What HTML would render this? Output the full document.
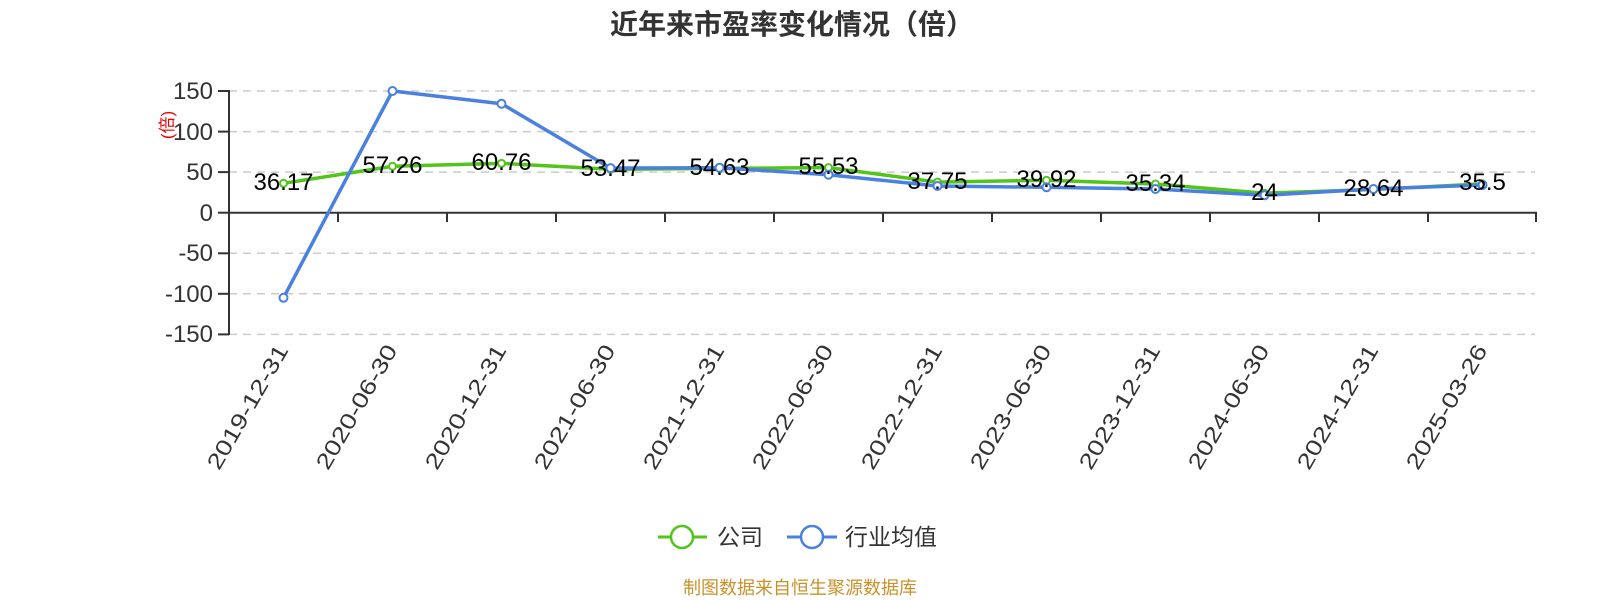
<!DOCTYPE html>
<html><head><meta charset="utf-8"><style>
html,body{margin:0;padding:0;background:#fff;}
svg{display:block;font-family:"Liberation Sans","Noto Sans CJK SC",sans-serif;}
</style></head><body>
<svg width="1600" height="600" viewBox="0 0 1600 600" xmlns="http://www.w3.org/2000/svg">
<text x="792" y="34" text-anchor="middle" font-size="28" font-weight="bold" fill="#333" font-family="'Liberation Sans','Noto Sans CJK SC',sans-serif">近年来市盈率变化情况（倍）</text>
<g stroke="#ccc" stroke-width="1.5" stroke-dasharray="8,6">
<line x1="229" y1="91" x2="1535" y2="91"/>
<line x1="229" y1="131.6" x2="1535" y2="131.6"/>
<line x1="229" y1="172.1" x2="1535" y2="172.1"/>
<line x1="229" y1="253.3" x2="1535" y2="253.3"/>
<line x1="229" y1="293.8" x2="1535" y2="293.8"/>
<line x1="229" y1="334.4" x2="1535" y2="334.4"/>
</g>
<g stroke="#333" stroke-width="2">
<line x1="229" y1="90" x2="229" y2="335"/>
<line x1="229" y1="212.7" x2="1537" y2="212.7"/>
<line x1="218" y1="91" x2="229" y2="91"/><line x1="218" y1="131.6" x2="229" y2="131.6"/><line x1="218" y1="172.1" x2="229" y2="172.1"/><line x1="218" y1="212.7" x2="229" y2="212.7"/><line x1="218" y1="253.3" x2="229" y2="253.3"/><line x1="218" y1="293.8" x2="229" y2="293.8"/><line x1="218" y1="334.4" x2="229" y2="334.4"/>
<line x1="338" y1="212.7" x2="338" y2="222"/><line x1="447" y1="212.7" x2="447" y2="222"/><line x1="556" y1="212.7" x2="556" y2="222"/><line x1="665" y1="212.7" x2="665" y2="222"/><line x1="774" y1="212.7" x2="774" y2="222"/><line x1="883" y1="212.7" x2="883" y2="222"/><line x1="992" y1="212.7" x2="992" y2="222"/><line x1="1101" y1="212.7" x2="1101" y2="222"/><line x1="1210" y1="212.7" x2="1210" y2="222"/><line x1="1319" y1="212.7" x2="1319" y2="222"/><line x1="1428" y1="212.7" x2="1428" y2="222"/><line x1="1536" y1="212.7" x2="1536" y2="222"/>
</g>
<g font-size="24" fill="#333" text-anchor="end">
<text x="213" y="99">150</text><text x="213" y="140">100</text><text x="213" y="180">50</text><text x="213" y="221">0</text><text x="213" y="261">-50</text><text x="213" y="302">-100</text><text x="213" y="342">-150</text>
</g>
<text transform="translate(173,125) rotate(-90)" text-anchor="middle" font-size="17" fill="#e00">(倍)</text>
<g font-size="22" fill="#333" text-anchor="end">
<text transform="translate(289,350) rotate(-60)" textLength="140" lengthAdjust="spacingAndGlyphs">2019-12-31</text>
<text transform="translate(398,350) rotate(-60)" textLength="140" lengthAdjust="spacingAndGlyphs">2020-06-30</text>
<text transform="translate(507,350) rotate(-60)" textLength="140" lengthAdjust="spacingAndGlyphs">2020-12-31</text>
<text transform="translate(616,350) rotate(-60)" textLength="140" lengthAdjust="spacingAndGlyphs">2021-06-30</text>
<text transform="translate(725,350) rotate(-60)" textLength="140" lengthAdjust="spacingAndGlyphs">2021-12-31</text>
<text transform="translate(834,350) rotate(-60)" textLength="140" lengthAdjust="spacingAndGlyphs">2022-06-30</text>
<text transform="translate(943,350) rotate(-60)" textLength="140" lengthAdjust="spacingAndGlyphs">2022-12-31</text>
<text transform="translate(1052,350) rotate(-60)" textLength="140" lengthAdjust="spacingAndGlyphs">2023-06-30</text>
<text transform="translate(1161,350) rotate(-60)" textLength="140" lengthAdjust="spacingAndGlyphs">2023-12-31</text>
<text transform="translate(1270,350) rotate(-60)" textLength="140" lengthAdjust="spacingAndGlyphs">2024-06-30</text>
<text transform="translate(1379,350) rotate(-60)" textLength="140" lengthAdjust="spacingAndGlyphs">2024-12-31</text>
<text transform="translate(1488,350) rotate(-60)" textLength="140" lengthAdjust="spacingAndGlyphs">2025-03-26</text>
</g>
<polyline fill="none" stroke="#52c41a" stroke-width="3.5" stroke-linejoin="round" points="283.5,183.3 392.5,166.3 501.5,163.4 610.5,169.3 719.5,168.4 828.5,167.6 937.5,182.1 1046.5,180.3 1155.5,184.0 1264.5,193.2 1373.5,189.5 1482.5,183.9"/>
<polyline fill="none" stroke="#4a80e0" stroke-width="3.5" stroke-linejoin="round" points="283.5,297.8 392.5,91 501.5,103.7 610.5,168.1 719.5,167.7 828.5,174.7 937.5,186 1046.5,187.3 1155.5,189 1264.5,195.3 1373.5,189 1482.5,185"/>
<g fill="#fff" stroke="#52c41a" stroke-width="2">
<circle cx="283.5" cy="183.3" r="3.5"/><circle cx="392.5" cy="166.3" r="3.5"/><circle cx="501.5" cy="163.4" r="3.5"/><circle cx="610.5" cy="169.3" r="3.5"/><circle cx="719.5" cy="168.4" r="3.5"/><circle cx="828.5" cy="167.6" r="3.5"/><circle cx="937.5" cy="182.1" r="3.5"/><circle cx="1046.5" cy="180.3" r="3.5"/><circle cx="1155.5" cy="184.0" r="3.5"/><circle cx="1264.5" cy="193.2" r="3.5"/><circle cx="1373.5" cy="189.5" r="3.5"/><circle cx="1482.5" cy="183.9" r="3.5"/>
</g>
<g fill="#fff" stroke="#4a80e0" stroke-width="2">
<circle cx="283.5" cy="297.8" r="4"/><circle cx="392.5" cy="91" r="4"/><circle cx="501.5" cy="103.7" r="4"/><circle cx="610.5" cy="168.1" r="4"/><circle cx="719.5" cy="167.7" r="4"/><circle cx="828.5" cy="174.7" r="4"/><circle cx="937.5" cy="186" r="4"/><circle cx="1046.5" cy="187.3" r="4"/><circle cx="1155.5" cy="189" r="4"/><circle cx="1264.5" cy="195.3" r="4"/><circle cx="1373.5" cy="189" r="4"/><circle cx="1482.5" cy="185" r="4"/>
</g>
<g font-size="24" fill="#000" text-anchor="middle">
<text x="283.5" y="190">36.17</text><text x="392.5" y="173">57.26</text><text x="501.5" y="170">60.76</text><text x="610.5" y="176">53.47</text><text x="719.5" y="175">54.63</text><text x="828.5" y="174">55.53</text><text x="937.5" y="189">37.75</text><text x="1046.5" y="187">39.92</text><text x="1155.5" y="191">35.34</text><text x="1264.5" y="200">24</text><text x="1373.5" y="196">28.64</text><text x="1482.5" y="190">35.5</text>
</g>
<line x1="658" y1="537" x2="707" y2="537" stroke="#52c41a" stroke-width="3"/>
<circle cx="682" cy="537" r="11" fill="#fff" stroke="#52c41a" stroke-width="2.5"/>
<text x="717" y="545" font-size="23" fill="#333">公司</text>
<line x1="787" y1="537" x2="837" y2="537" stroke="#4a80e0" stroke-width="3"/>
<circle cx="812" cy="537" r="11" fill="#fff" stroke="#4a80e0" stroke-width="2.5"/>
<text x="845" y="545" font-size="23" fill="#333">行业均值</text>
<text x="800" y="594" text-anchor="middle" font-size="18" fill="#c8922a">制图数据来自恒生聚源数据库</text>
</svg>
</body></html>
